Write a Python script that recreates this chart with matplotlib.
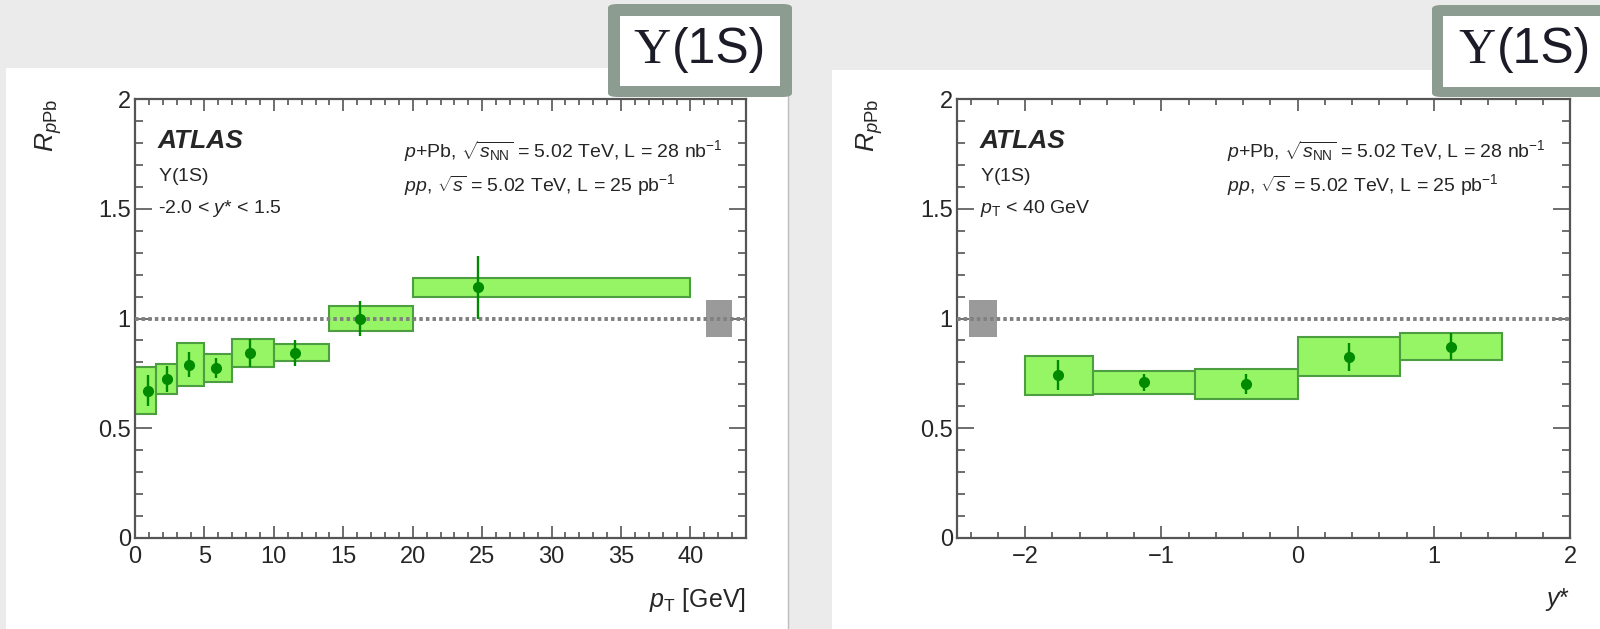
import matplotlib
matplotlib.use("Agg")
import matplotlib.pyplot as plt
from matplotlib.patches import Rectangle, FancyBboxPatch
from matplotlib.lines import Line2D
from matplotlib.ticker import MultipleLocator, FixedLocator

plt.rcParams['font.family'] = ['Liberation Sans', 'DejaVu Sans']
plt.rcParams['mathtext.fontset'] = 'custom'
plt.rcParams['mathtext.rm'] = 'Liberation Sans'
plt.rcParams['mathtext.it'] = 'Liberation Sans:italic'
plt.rcParams['mathtext.bf'] = 'Liberation Sans:bold'

# ---------------- data ----------------
# left panel: R_pPb vs pT
pt_edges = [0, 1.5, 3, 5, 7, 10, 14, 20, 40]
pt_points = [0.96, 2.28, 3.9, 5.84, 8.3, 11.5, 16.2, 24.7]
pt_R = [0.67, 0.725, 0.79, 0.775, 0.842, 0.844, 1.0, 1.142]
pt_stat = [0.07, 0.06, 0.055, 0.045, 0.065, 0.06, 0.08, 0.145]
pt_sys = [0.107, 0.068, 0.099, 0.065, 0.065, 0.038, 0.059, 0.042]

# right panel: R_pPb vs y*
y_edges = [-2.0, -1.5, -0.75, 0.0, 0.75, 1.5]
y_points = [-1.76, -1.13, -0.375, 0.375, 1.125]
y_R = [0.742, 0.709, 0.701, 0.825, 0.872]
y_stat = [0.07, 0.04, 0.045, 0.065, 0.06]
y_sys = [0.089, 0.053, 0.068, 0.089, 0.063]

norm_unc = 0.085  # global normalisation uncertainty (grey box)

left_texts = [r'$\Upsilon$(1S)', r'-2.0 < $y$* < 1.5']
right_texts = [r'$\Upsilon$(1S)', r'$p_{\mathrm{T}}$ < 40 GeV']
energy_lines = [r'$p$+Pb, $\sqrt{s_{\mathrm{NN}}}$ = 5.02 TeV, L = 28 nb$^{-1}$',
                r'$pp$, $\sqrt{s}$ = 5.02 TeV, L = 25 pb$^{-1}$']

# ---------------- figure ----------------
W, H = 1600, 629
fig = plt.figure(figsize=(W / 100, H / 100), dpi=100)
fig.patch.set_facecolor('#ebebeb')


def frect(x0, y0, x1, y1, **kw):
    # rectangle in pixel coords (y from top)
    r = Rectangle((x0 / W, 1 - y1 / H), (x1 - x0) / W, (y1 - y0) / H,
                  transform=fig.transFigure, **kw)
    fig.add_artist(r)
    return r


# white panels
frect(6, 68, 788, 629, facecolor='white', edgecolor='none', zorder=0)
frect(832, 70, 1600, 629, facecolor='white', edgecolor='none', zorder=0)
fig.add_artist(Line2D([788 / W, 788 / W], [0, 1 - 68 / H], transform=fig.transFigure,
                      color='#bdbdbd', lw=1, zorder=1))

TXT = '#262626'
SPINE = '#555555'
FILL = '#96f564'
EDGE = '#4d9e40'
PT = '#008a00'


def style_axes(ax, xmaj, xmin):
    for s in ax.spines.values():
        s.set_color(SPINE)
        s.set_linewidth(1.6)
    ax.set_ylim(0, 2)
    ax.yaxis.set_major_locator(FixedLocator([0, 0.5, 1, 1.5, 2]))
    ax.yaxis.set_minor_locator(MultipleLocator(0.1))
    ax.xaxis.set_major_locator(MultipleLocator(xmaj))
    ax.xaxis.set_minor_locator(MultipleLocator(xmin))
    ax.set_yticklabels(['0', '0.5', '1', '1.5', '2'])
    ax.tick_params(which='both', direction='in', top=True, right=True, color=SPINE,
                   labelcolor=TXT, labelsize=17)
    ax.tick_params(axis='x', which='major', length=8.5, width=1.2, pad=6)
    ax.tick_params(axis='x', which='minor', length=4.3, width=1.2)
    ax.tick_params(axis='y', which='major', length=12, width=1.2, pad=3)
    ax.tick_params(axis='y', which='minor', length=5.8, width=1.2)
    ax.set_facecolor('white')


def draw_panel(ax, edges, pts, R, stat, sys, norm_x, norm_w, side_texts, xlabel):
    for i in range(len(pts)):
        ax.bar(edges[i], 2 * sys[i], width=edges[i + 1] - edges[i], bottom=R[i] - sys[i],
               align='edge', color=FILL, edgecolor=EDGE, linewidth=1.5, zorder=2)
    ax.bar(norm_x, 2 * norm_unc, width=norm_w, bottom=1 - norm_unc, align='center',
           color='#9a9a9a', edgecolor='none', zorder=2)
    ax.axhline(1.0, color='#808080', lw=2.8, ls=(0, (0.9, 0.8)), zorder=3)
    ax.errorbar(pts, R, yerr=stat, fmt='o', color=PT, ms=7, elinewidth=1.7,
                capsize=0, zorder=4)
    ax.text(0.037, 0.905, 'ATLAS', transform=ax.transAxes, fontsize=19,
            fontweight='bold', fontstyle='italic', color=TXT, va='center', ha='left')
    ax.text(0.037, 0.823, side_texts[0], transform=ax.transAxes, fontsize=14,
            color=TXT, va='center', ha='left')
    ax.text(0.037, 0.75, side_texts[1], transform=ax.transAxes, fontsize=14,
            color=TXT, va='center', ha='left')
    ax.text(0.44, 0.883, energy_lines[0], transform=ax.transAxes, fontsize=14,
            color=TXT, va='center', ha='left')
    ax.text(0.44, 0.805, energy_lines[1], transform=ax.transAxes, fontsize=14,
            color=TXT, va='center', ha='left')
    ax.text(-0.142, 1.0, r'$R_{p\mathrm{Pb}}$', transform=ax.transAxes, fontsize=19,
            rotation=90, color=TXT, va='top', ha='center')
    ax.text(1.0, -0.142, xlabel, transform=ax.transAxes, fontsize=18,
            color=TXT, va='center', ha='right')


axL = fig.add_axes([135 / W, 1 - 537.7 / H, 611 / W, 438.4 / H])
style_axes(axL, 5, 1)
axL.set_xlim(0, 44)
draw_panel(axL, pt_edges, pt_points, pt_R, pt_stat, pt_sys, 42.05, 1.9,
           left_texts, r'$p_{\mathrm{T}}$ [GeV]')

axR = fig.add_axes([957 / W, 1 - 537.7 / H, 613 / W, 438.4 / H])
style_axes(axR, 1, 0.2)
axR.set_xlim(-2.5, 2)
draw_panel(axR, y_edges, y_points, y_R, y_stat, y_sys, -2.31, 0.2,
           right_texts, r'$y$*')

# Upsilon(1S) boxes
BORDER = '#8c9c90'


def ybox(x0, y0, x1, y1, b, tx):
    fig.add_artist(FancyBboxPatch((x0 / W, 1 - y1 / H), (x1 - x0) / W, (y1 - y0) / H,
                                  boxstyle='round,pad=0,rounding_size=0.006',
                                  transform=fig.transFigure, facecolor=BORDER,
                                  edgecolor='none', zorder=5))
    frect(x0 + b, y0 + b, x1 - b, y1 - b + 0.5, facecolor='white', edgecolor='none', zorder=6)
    fig.text(tx / W, 1 - 63 / H, 'Υ', fontsize=37, family='Liberation Serif',
             color='#1c1c28', va='baseline', ha='left', zorder=7)
    fig.text((tx + 39) / W, 1 - 63 / H, '(1S)', fontsize=36, family='Liberation Sans',
             color='#1c1c28', va='baseline', ha='left', zorder=7)


ybox(608, 4, 792, 97, 12, 633)
ybox(1432, 5, 1612, 97, 11, 1458)

fig.savefig('out.png', dpi=100, facecolor=fig.get_facecolor())
